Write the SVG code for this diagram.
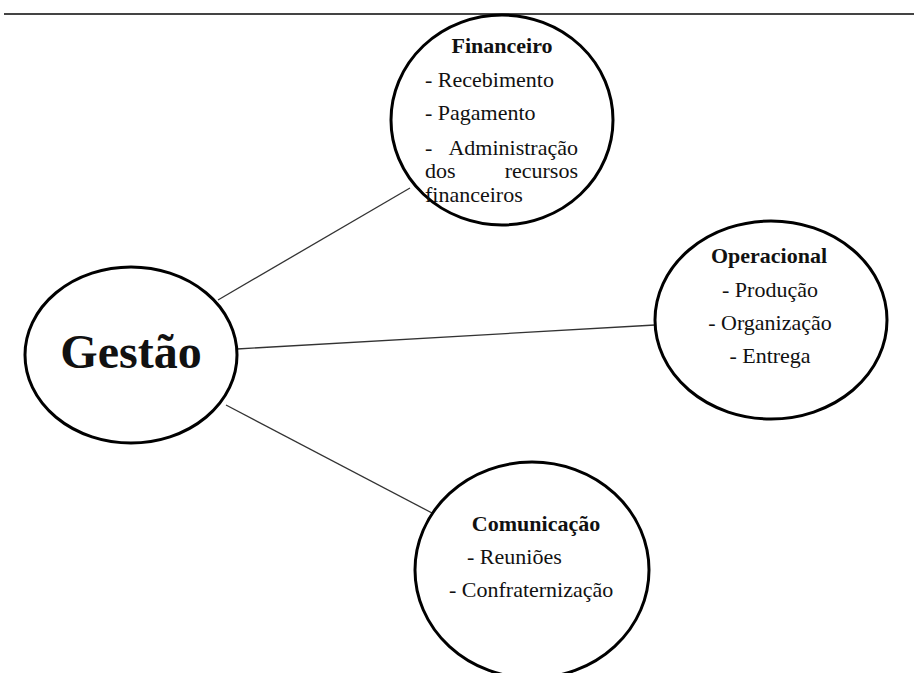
<svg xmlns="http://www.w3.org/2000/svg" width="914" height="673" viewBox="0 0 914 673">
<style>
.node{fill:#fff;stroke:#000;stroke-width:3}
.t{font-family:"Liberation Serif","Times New Roman",serif;font-size:22px;fill:#111}
.h{font-weight:bold}
.c{text-anchor:middle}
.conn line{stroke:#333;stroke-width:1.3}
</style>
<rect width="914" height="673" fill="#fff"/>
<line x1="4" y1="14" x2="914" y2="14" stroke="#444" stroke-width="2"/>
<g class="conn">
<line x1="218" y1="300" x2="410" y2="188"/>
<line x1="237" y1="349" x2="655" y2="325"/>
<line x1="226" y1="405" x2="432" y2="513"/>
</g>
<g id="gestao">
<ellipse class="node" cx="131" cy="355" rx="106" ry="88"/>
<text class="t h c" x="131" y="368" style="font-size:48px">Gestão</text>
</g>
<g id="financeiro">
<ellipse class="node" cx="502" cy="120" rx="111" ry="105"/>
<text class="t h c" x="502" y="53">Financeiro</text>
<text class="t" x="425" y="87">- Recebimento</text>
<text class="t" x="425" y="120">- Pagamento</text>
<text class="t" x="425" y="155">-</text>
<text class="t" x="578" y="155" text-anchor="end">Administração</text>
<text class="t" x="425" y="178">dos</text>
<text class="t" x="578" y="178" text-anchor="end">recursos</text>
<text class="t" x="425" y="202">financeiros</text>
</g>
<g id="operacional">
<ellipse class="node" cx="771" cy="320" rx="116" ry="99"/>
<text class="t h c" x="769" y="263">Operacional</text>
<text class="t c" x="770" y="297">- Produção</text>
<text class="t c" x="770" y="330">- Organização</text>
<text class="t c" x="770" y="363">- Entrega</text>
</g>
<g id="comunicacao">
<ellipse class="node" cx="532" cy="570" rx="117" ry="108"/>
<text class="t h c" x="536" y="531">Comunicação</text>
<text class="t" x="467" y="564">- Reuniões</text>
<text class="t" x="449" y="597">- Confraternização</text>
</g>
</svg>
